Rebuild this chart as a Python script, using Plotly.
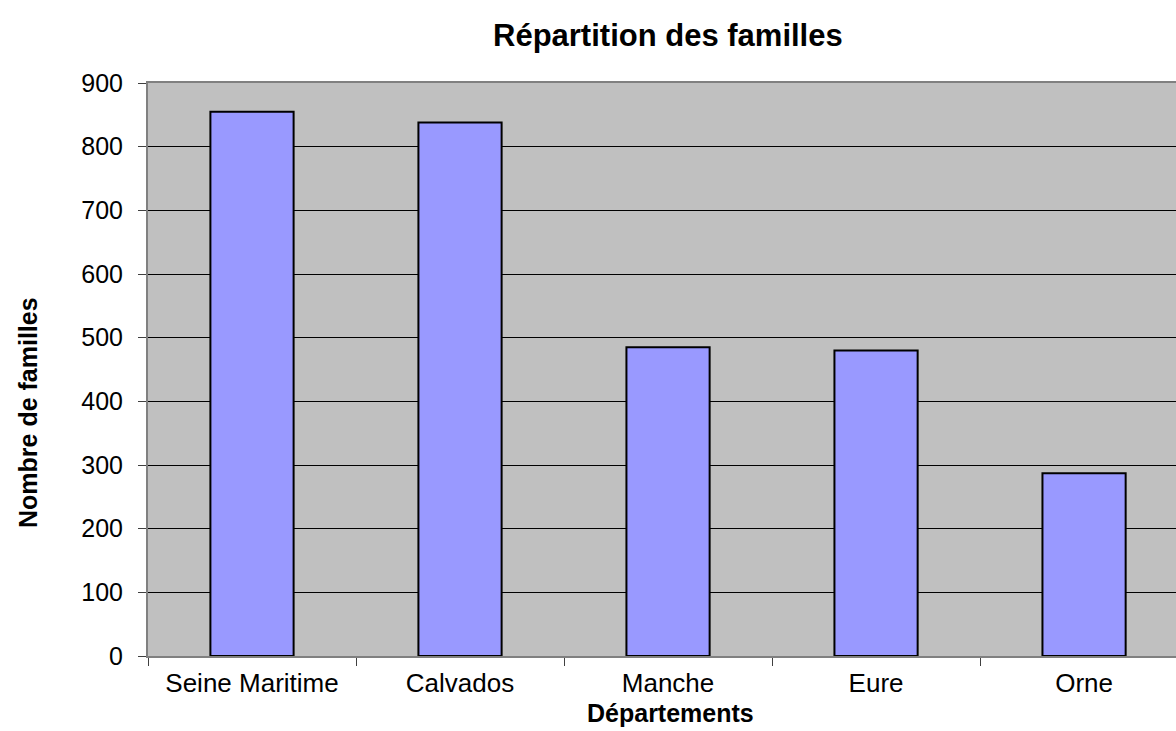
import plotly.graph_objects as go

# Families per département
departements = ["Seine Maritime", "Calvados", "Manche", "Eure", "Orne"]
familles = [855, 838, 485, 480, 287]
y_ticks = [0, 100, 200, 300, 400, 500, 600, 700, 800, 900]

FONT = "Liberation Sans, Arial, sans-serif"

fig = go.Figure(
    go.Bar(
        x=departements,
        y=familles,
        width=0.4,
        marker=dict(color="#9999FF", line=dict(color="#000000", width=2)),
    )
)

fig.update_layout(
    width=1176,
    height=731,
    margin=dict(l=148, r=0, t=83, b=75),
    paper_bgcolor="#FFFFFF",
    plot_bgcolor="#C0C0C0",
    font=dict(family=FONT, size=24, color="#000000"),
    showlegend=False,
    bargap=0.6,
)

fig.update_xaxes(
    type="category",
    range=[-0.5, 4.442],
    tickson="boundaries",
    ticks="outside",
    ticklen=8,
    tickcolor="#404040",
    tickwidth=1,
    showline=True,
    linecolor="#808080",
    linewidth=2,
    mirror=True,
    showgrid=False,
    tickfont=dict(size=26),
    ticklabelstandoff=3,
)

fig.update_yaxes(
    range=[0, 900],
    tickvals=y_ticks,
    ticks="outside",
    ticklen=8,
    tickcolor="#404040",
    tickwidth=1,
    showline=True,
    linecolor="#808080",
    linewidth=2,
    showgrid=True,
    gridcolor="#000000",
    gridwidth=1,
    zeroline=False,
    tickfont=dict(size=25),
    ticklabelstandoff=10,
)

fig.add_annotation(
    text="<b>Répartition des familles</b>",
    xref="paper", yref="paper", x=(668 - 148) / 1028, y=1,
    yshift=48, xanchor="center", yanchor="middle",
    showarrow=False, font=dict(size=31, family=FONT),
)
fig.add_annotation(
    text="<b>Départements</b>",
    xref="paper", yref="paper", x=(670 - 148) / 1028, y=0,
    yshift=-57, xanchor="center", yanchor="middle",
    showarrow=False, font=dict(size=25, family=FONT),
)
fig.add_annotation(
    text="<b>Nombre de familles</b>",
    xref="paper", yref="paper", x=0, y=(656 - 413) / 573,
    xshift=-120, xanchor="center", yanchor="middle", textangle=-90,
    showarrow=False, font=dict(size=25, family=FONT),
)

fig.write_html("out.html")
